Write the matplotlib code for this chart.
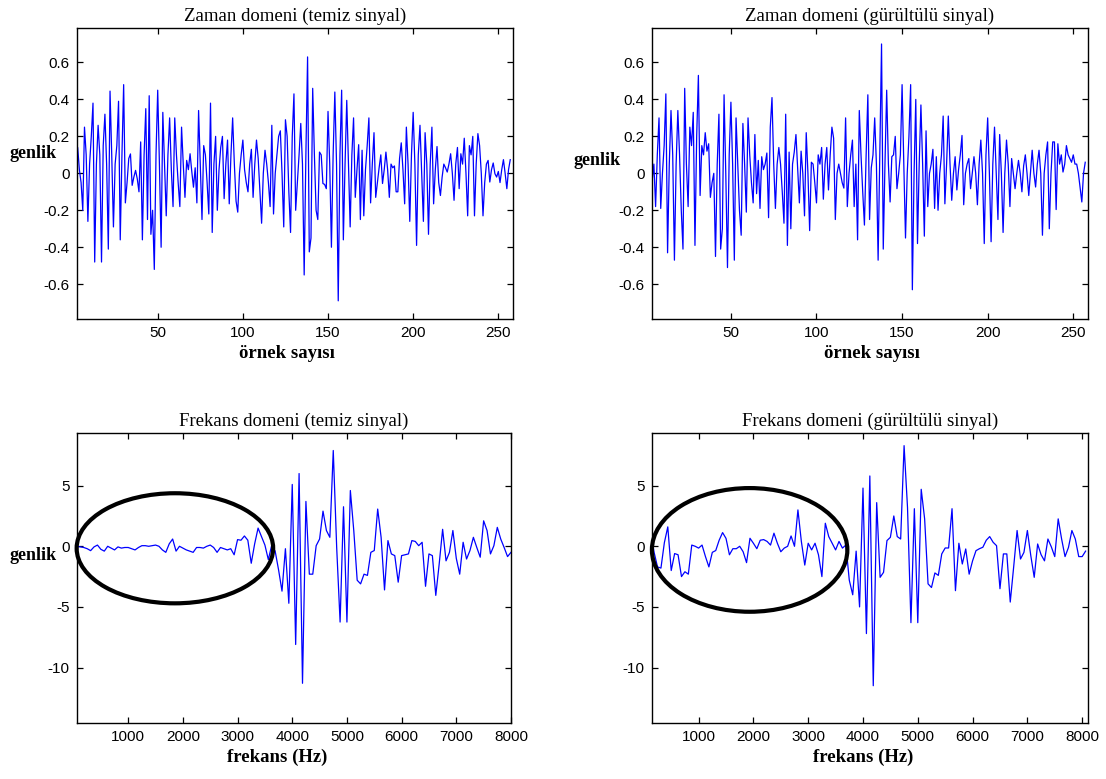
import numpy as np
import matplotlib
matplotlib.use("Agg")
import matplotlib.pyplot as plt
from matplotlib.patches import Ellipse

plt.rcParams['axes.unicode_minus'] = False

# clean signal, samples 2..257
clean_time = [
    0.10, 0.14, 0.02, -0.05, -0.20, 0.25, 0.10, -0.26, 0.05, 0.20,
    0.38, -0.48, 0.05, 0.26, 0.10, -0.48, 0.15, 0.32, 0.05, -0.41,
    0.445, 0.10, -0.29, 0.05, 0.15, 0.39, -0.36, 0.10, 0.48, -0.16,
    -0.05, 0.08, 0.105, -0.065, -0.02, 0.016, -0.03, -0.10, 0.17, -0.36,
    0.10, 0.35, -0.25, 0.42, -0.33, -0.20, -0.52, 0.10, 0.45, 0.05,
    -0.40, 0.33, 0.05, -0.23, 0.10, 0.30, 0.02, -0.18, 0.30, 0.10,
    -0.05, -0.18, 0.25, 0.05, -0.13, 0.07, 0.02, 0.106, 0.01, -0.075,
    0.03, -0.16, 0.34, 0.05, -0.25, 0.15, 0.10, -0.05, -0.22, 0.38,
    -0.32, 0.05, 0.20, -0.20, 0.02, 0.14, 0.20, -0.137, 0.05, 0.18,
    -0.165, 0.10, 0.30, 0.05, -0.15, -0.21, 0.0, 0.10, 0.18, 0.02,
    -0.05, -0.10, 0.05, 0.13, -0.13, 0.05, 0.18, 0.08, -0.10, -0.27,
    0.0, 0.125, 0.05, -0.05, -0.18, 0.26, -0.22, 0.0, 0.10, 0.20,
    0.23, 0.0, -0.29, 0.29, 0.20, -0.10, -0.32, 0.20, 0.43, -0.20,
    -0.05, 0.10, 0.27, 0.05, -0.55, 0.10, 0.63, -0.425, -0.35, 0.46,
    0.10, -0.20, -0.25, 0.115, 0.10, -0.055, -0.06, -0.083, 0.335, 0.05,
    -0.40, 0.10, 0.44, 0.05, -0.69, 0.10, 0.45, -0.36, 0.05, 0.395,
    0.05, -0.29, 0.10, 0.30, -0.13, 0.02, 0.155, -0.25, 0.125, -0.23,
    0.02, 0.15, 0.30, -0.16, 0.05, 0.22, -0.13, -0.05, 0.03, 0.10,
    -0.055, 0.02, 0.115, 0.02, -0.13, 0.05, 0.03, 0.04, -0.10, -0.10,
    0.08, 0.165, 0.02, -0.165, 0.25, 0.05, -0.26, 0.10, 0.33, 0.05,
    -0.39, 0.10, 0.26, 0.0, -0.26, 0.22, 0.05, -0.33, 0.05, 0.25,
    -0.165, 0.02, 0.145, -0.05, -0.12, -0.02, 0.05, 0.03, 0.007, 0.05,
    0.106, 0.0, -0.146, 0.05, 0.14, -0.083, 0.106, 0.05, 0.19, 0.0,
    -0.23, 0.15, 0.10, 0.20, -0.23, 0.05, 0.215, 0.15, 0.0, -0.23,
    -0.05, 0.05, 0.07, -0.047, 0.02, 0.056, -0.002, -0.02, 0.01, -0.05,
    0.02, 0.074, 0.0, -0.083, 0.02, 0.074,
]

# noisy signal, samples 2..257
noisy_time = [
    0.05, 0.08, -0.04, 0.05, -0.18, 0.10, 0.30, -0.19, 0.0, 0.15,
    0.43, -0.43, 0.05, 0.34, 0.10, -0.47, 0.05, 0.34, 0.10, -0.20,
    -0.41, 0.46, 0.05, -0.18, 0.25, 0.15, 0.33, -0.39, 0.20, 0.53,
    -0.12, 0.15, 0.10, 0.22, 0.12, 0.16, -0.13, -0.05, 0.0, -0.45,
    0.05, 0.32, -0.41, -0.30, 0.425, 0.0, -0.51, 0.10, 0.385, 0.05,
    -0.47, 0.30, 0.05, -0.20, -0.335, 0.27, 0.05, -0.21, 0.30, 0.10,
    -0.05, -0.16, 0.21, -0.11, 0.07, -0.19, 0.09, 0.02, 0.05, 0.11,
    -0.24, 0.25, 0.41, 0.05, -0.19, 0.05, 0.14, 0.05, -0.10, -0.27,
    0.32, -0.39, 0.115, -0.30, 0.05, 0.115, 0.21, 0.02, -0.16, 0.12,
    0.0, -0.23, 0.22, 0.0, -0.31, 0.06, 0.05, -0.05, -0.16, 0.10,
    0.05, 0.14, -0.14, 0.05, 0.14, -0.09, 0.10, 0.25, 0.19, -0.25,
    0.0, 0.05, 0.0, -0.05, -0.08, 0.30, -0.18, 0.0, 0.10, 0.18,
    -0.18, 0.05, -0.36, 0.34, 0.10, -0.10, -0.28, 0.10, 0.425, -0.25,
    0.03, 0.10, 0.30, 0.05, -0.47, 0.10, 0.70, -0.41, 0.05, 0.45,
    0.05, -0.155, 0.09, 0.10, 0.20, -0.083, 0.0, 0.10, 0.48, 0.05,
    -0.35, 0.0, 0.20, 0.48, -0.63, 0.0, 0.40, -0.38, 0.05, 0.37,
    0.05, -0.34, 0.23, -0.18, 0.0, 0.05, 0.13, -0.19, 0.09, -0.20,
    0.0, 0.10, 0.31, -0.165, 0.05, 0.31, 0.05, -0.146, 0.0, 0.09,
    -0.09, 0.02, 0.10, 0.205, -0.17, 0.0, 0.05, 0.08, -0.083, 0.0,
    0.09, 0.0, -0.17, 0.05, 0.18, 0.0, -0.38, 0.10, 0.30, 0.0,
    -0.37, 0.05, 0.25, 0.0, -0.25, 0.21, 0.0, -0.32, 0.0, 0.18,
    0.05, -0.18, 0.08, 0.0, -0.083, 0.0, 0.07, 0.0, -0.10, 0.04,
    0.10, 0.0, -0.12, 0.0, 0.125, 0.0, -0.074, 0.05, 0.125, 0.0,
    -0.335, 0.0, 0.10, 0.17, -0.30, 0.0, 0.17, 0.17, -0.196, 0.16,
    0.05, 0.10, 0.007, 0.05, 0.15, 0.10, 0.08, 0.06, 0.10, 0.05,
    0.05, 0.0, -0.08, -0.155, 0.0, 0.06,
]

# spectra, one value per 62.5 Hz bin
clean_freq = [
    0.0, -0.05, -0.1, -0.2, -0.36, -0.05, 0.1, -0.25, -0.4, 0.0,
    -0.15, -0.3, -0.05, -0.15, -0.1, -0.1, -0.2, -0.3, -0.1, 0.05,
    0.05, 0.0, 0.05, 0.1, 0.0, -0.3, -0.5, 0.2, 0.6, -0.4,
    0.0, -0.15, -0.3, -0.4, -0.5, -0.1, -0.1, -0.15, 0.0, 0.1,
    -0.1, -0.5, -0.1, -0.2, -0.3, -0.2, -0.7, 0.55, 0.5, 0.85,
    0.5, -1.4, 0.2, 1.5, 0.8, 0.1, -1.1, 0.1, -0.4, -1.95,
    -3.7, -0.2, -4.7, 5.1, -8.1, 6.0, -11.3, 3.7, -2.3, -2.3,
    0.05, 0.6, 2.9, 1.3, 0.74, 7.9, -0.1, -6.25, 3.26, -6.25,
    4.6, 1.3, -2.8, -3.1, -2.3, -2.4, -0.5, -0.35, 3.07, 0.74,
    -3.6, 0.47, -0.63, -0.77, -2.96, -0.77, -0.7, -0.63, 0.47, 0.4,
    0.05, 0.33, -3.3, -0.63, -0.77, -4.05, -1.45, 1.4, -1.2, -0.5,
    1.3, -1.0, -2.3, 0.33, -1.05, -0.35, 0.74, -0.1, -0.9, 2.1,
    1.3, -0.63, 0.05, 1.56, 0.6, -0.1, -0.85, -0.5,
]

noisy_freq = [
    0.5, 1.35, -0.5, -1.7, -1.8, 0.3, 1.6, -2.0, -0.6, -0.7,
    -2.5, -2.1, -2.3, 0.1, 0.0, -0.15, 0.1, -0.85, -1.7, -0.5,
    -0.35, 0.5, 1.13, 0.65, -0.7, -0.2, -0.2, 0.0, -0.45, -1.35,
    0.66, 0.25, -0.2, 0.5, 0.55, 0.4, 0.1, 1.08, 0.25, -0.45,
    -0.15, 0.0, 0.85, 0.0, 3.0, 0.4, -1.55, 0.25, -0.3, 0.25,
    -0.7, -2.5, 1.9, 0.8, 0.25, -0.3, 0.4, -0.15, 0.1, -2.8,
    -4.0, -0.4, -5.0, 4.8, -7.2, 5.8, -11.5, 3.6, -2.56, -2.15,
    0.47, 0.74, 2.5, 0.8, 0.6, 8.3, 3.2, -6.3, 3.1, -6.3,
    4.7, 2.26, -3.1, -3.4, -2.2, -2.4, -0.63, -0.14, -0.14, 3.1,
    -3.66, 0.25, -1.46, -0.22, -2.3, -1.2, -0.36, -0.2, -0.08, 0.5,
    0.8, 0.33, 0.05, -3.5, -0.63, -0.63, -4.6, -1.7, 1.3, -1.05,
    -0.5, 1.3, -0.77, -2.56, 0.19, -0.69, -1.2, 0.6, -0.05, -0.85,
    2.26, 0.6, -0.85, -0.1, 1.3, 0.6, -0.85, -0.85, -0.4,
]

time_ticks = [50, 100, 150, 200, 250]
time_yticks = [-0.6, -0.4, -0.2, 0, 0.2, 0.4, 0.6]
time_yticklabels = ['-0.6', '-0.4', '-0.2', '0', '0.2', '0.4', '0.6']
freq_ticks = [1000, 2000, 3000, 4000, 5000, 6000, 7000, 8000]
freq_yticks = [-10, -5, 0, 5]

titles = ["Zaman domeni (temiz sinyal)", "Zaman domeni (gürültülü sinyal)",
          "Frekans domeni (temiz sinyal)", "Frekans domeni (gürültülü sinyal)"]
xlabels = ["örnek sayısı", "frekans (Hz)"]
ylabel = "genlik"

# low-frequency region highlighted on each spectrum: (center Hz, center amp, width Hz, height)
highlight_clean = (1854, -0.165, 3594, 9.08)
highlight_noisy = (1931, -0.3, 3567, 10.2)

SERIF = 'Liberation Serif'
SANS = 'Liberation Sans'

fig = plt.figure(figsize=(11.06, 7.79), dpi=100)
ax_tl = fig.add_axes([0.0693, 0.5901, 0.3942, 0.3736])
ax_tr = fig.add_axes([0.5892, 0.5901, 0.3942, 0.3736])
ax_bl = fig.add_axes([0.0693, 0.0715, 0.3927, 0.3723])
ax_br = fig.add_axes([0.5892, 0.0715, 0.3942, 0.3723])


def style(ax):
    ax.tick_params(direction='in', length=4, width=0.9, top=True, right=True,
                   labelsize=11, pad=5, colors='black')
    for lab in ax.get_xticklabels() + ax.get_yticklabels():
        lab.set_family(SANS)
    for sp in ax.spines.values():
        sp.set_linewidth(1.0)


n_clean = np.arange(2, 2 + len(clean_time))
n_noisy = np.arange(2, 2 + len(noisy_time))
f_clean = np.arange(1, len(clean_freq) + 1) * 62.5
f_noisy = np.arange(1, len(noisy_freq) + 1) * 62.5

ax_tl.plot(n_clean, clean_time, color='#0000ff', lw=0.9)
ax_tr.plot(n_noisy, noisy_time, color='#0000ff', lw=0.9)
ax_bl.plot(f_clean, clean_freq, color='#0000ff', lw=0.9)
ax_br.plot(f_noisy, noisy_freq, color='#0000ff', lw=0.9)

ax_tl.set_xlim(2.4, 258.4)
ax_tr.set_xlim(3.7, 258.4)
ax_bl.set_xlim(57, 8000)
ax_br.set_xlim(143, 8100)
for ax in (ax_tl, ax_tr):
    ax.set_ylim(-0.79, 0.785)
    ax.set_xticks(time_ticks)
    ax.set_yticks(time_yticks)
    ax.set_yticklabels(time_yticklabels)
for ax in (ax_bl, ax_br):
    ax.set_ylim(-14.6, 9.32)
    ax.set_xticks(freq_ticks)
    ax.set_yticks(freq_yticks)

for ax, t in zip((ax_tl, ax_tr, ax_bl, ax_br), titles):
    style(ax)
    ax.set_title(t, y=1.042, pad=0, va='center', fontsize=13.5, family=SERIF)

label_pos = {ax_tl: 0.482, ax_tr: 0.505, ax_bl: 0.462, ax_br: 0.485}
for ax, lab in ((ax_tl, xlabels[0]), (ax_tr, xlabels[0]), (ax_bl, xlabels[1]), (ax_br, xlabels[1])):
    ax.set_xlabel(lab, fontsize=13.5, family=SERIF, fontweight='semibold')
    ax.xaxis.set_label_coords(label_pos[ax], -0.116)
    ax.xaxis.label.set_va('center')

for ax, x, y in ((ax_tl, -0.10, 0.571), (ax_tr, -0.125, 0.547), (ax_bl, -0.10, 0.577)):
    ax.text(x, y, ylabel, transform=ax.transAxes, ha='center', va='center',
            fontsize=13, family=SERIF, fontweight='bold')

for ax, (cx, cy, w, h) in ((ax_bl, highlight_clean), (ax_br, highlight_noisy)):
    ax.add_patch(Ellipse((cx, cy), w, h, fill=False, ec='black', lw=3.0,
                         clip_on=False, zorder=5))

fig.savefig('out.png', dpi=100)
